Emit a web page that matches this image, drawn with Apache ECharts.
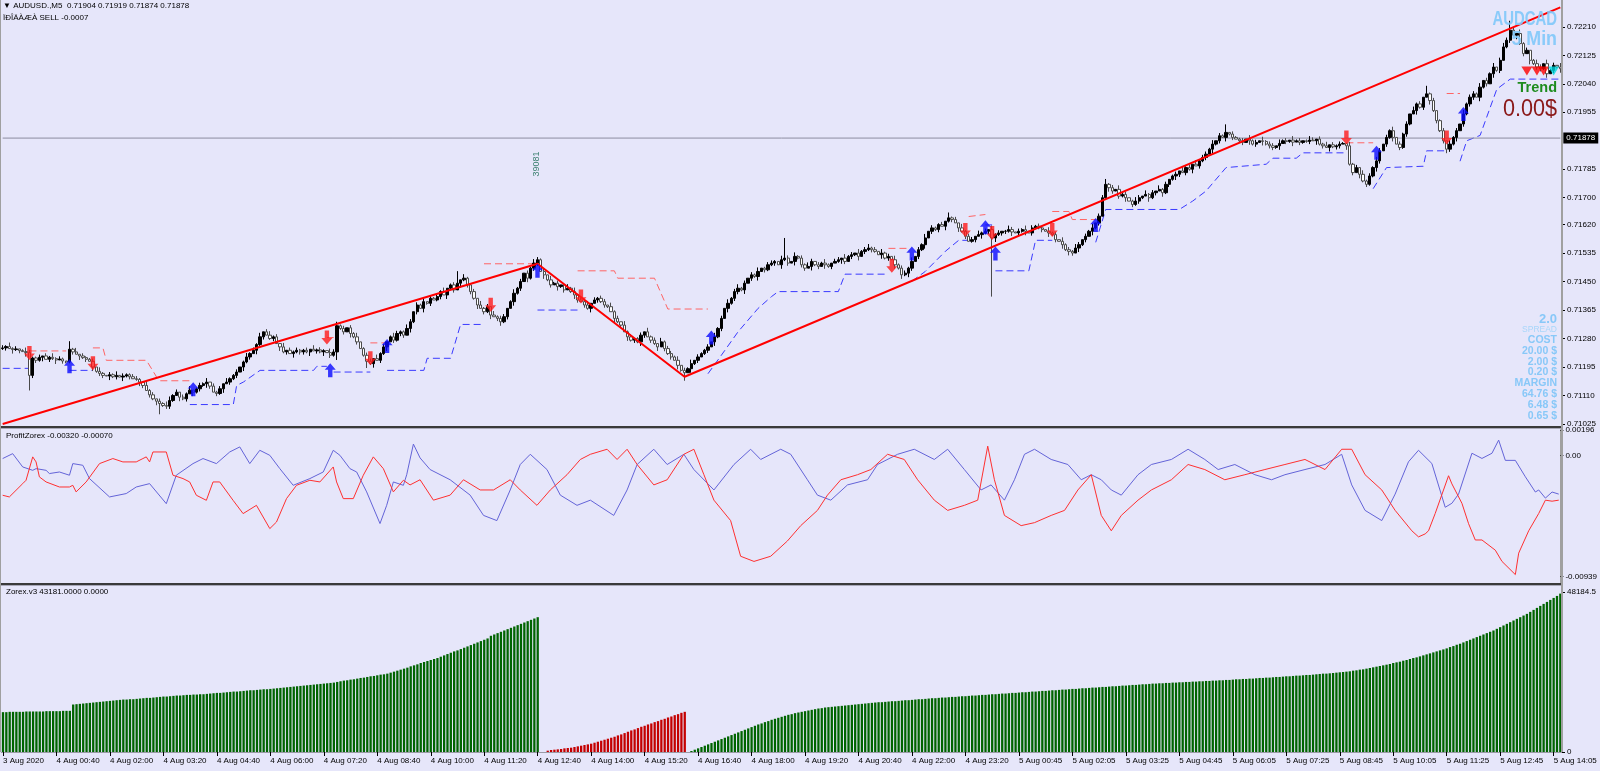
<!DOCTYPE html>
<html><head><meta charset="utf-8">
<script src="https://cdn.jsdelivr.net/npm/echarts@6/dist/echarts.min.js"></script>
<style>html,body{margin:0;padding:0;background:#E6E6FA;}#c{width:1600px;height:771px;}</style>
</head><body><div id="c"></div>
<script>
// ---------- DATA (prices in points: price = 0.71 + pts/1e5) ----------
const BASE = 0.71;
const firstOpen = 250;
const closes = [
252,256,250,247,249,244,241,238,170,222,
215,224,228,218,224,220,216,219,213,210,
248,240,233,228,223,218,212,195,182,176,
170,168,172,166,170,165,168,172,166,160,
158,150,140,125,112,100,93,86,80,78,
95,110,120,105,100,115,126,120,130,140,
145,150,138,120,116,130,145,150,160,170,
180,195,210,225,235,245,262,285,300,290,
280,285,265,255,240,245,235,240,245,240,
245,240,248,243,246,240,244,238,230,240,
318,310,300,312,295,285,270,250,230,212,
205,220,215,235,255,270,285,275,295,300,
290,310,330,360,380,370,390,385,400,395,
405,420,410,430,440,425,445,455,460,440,
420,400,380,370,360,375,350,345,340,330,
345,370,390,415,430,450,475,460,490,505,
515,480,470,455,440,445,435,440,425,430,
420,410,395,390,380,370,385,395,400,390,
380,375,360,340,330,320,300,285,275,280,
270,290,300,285,275,265,255,270,250,235,
225,215,200,185,178,190,205,215,225,235,
245,255,270,285,310,340,370,385,400,420,
430,425,445,460,470,465,480,490,485,500,
505,510,500,515,520,505,510,525,520,500,
490,495,510,500,495,505,500,495,505,510,
515,520,510,525,530,535,525,540,545,550,
545,540,530,535,520,525,515,500,490,470,
475,490,510,525,545,560,580,600,610,605,
620,615,630,640,635,625,610,600,585,570,
575,585,590,595,600,605,580,590,595,600,
600,605,598,595,600,605,600,595,610,615,
610,605,600,595,590,575,570,560,545,540,
535,550,560,575,585,600,610,625,645,700,
740,730,720,725,705,710,700,690,680,690,
700,705,710,700,715,720,725,715,740,755,
765,770,780,775,790,785,800,795,810,820,
830,845,860,870,885,880,895,890,880,875,
870,865,875,870,860,865,870,868,860,855,
850,855,862,870,868,872,866,870,865,870,
868,872,870,875,860,855,850,858,852,855,
860,862,855,800,775,790,770,750,740,765,
790,810,840,860,880,900,880,860,850,890,
920,950,960,980,970,1000,1010,990,960,930,
900,870,845,860,880,900,920,950,980,1000,
1010,1000,1030,1050,1040,1070,1090,1080,1110,1150,
1170,1200,1185,1190,1160,1130,1140,1110,1100,1090,
1085,1100,1070,1080,1095,1090,1085];
// upper / lower wick lengths, one digit per bar, x4 points
const wickUp = "2131201321 1202131210 6130211203 1021302112 2103120213 3120213012 1302120311 2013121302 3120302121 1203121032 "+
"3120213012 2031201321 1320213021 2130129031 1203120312 2013120213 2120312013 1302130212 2031203120 1203120312 "+
"2130213021 1203120312 3120213012 2103020312 1320213102 2031203123 1203120312 2130213021 1204120312 2031203120 "+
"1320213021 2103120312 1320213022 4120312013 2031203120 1203120312 2130216021 1203120312 2031203120 1320213021 "+
"2103120312 1320213021 2031206120 1203120312 2130213023 2720312013 2031203";
const wickDn = "1203120312 2130213021 1203120312 2031203120 1320213812 2103120312 1320213021 2031203120 1203120312 2130213021 "+
"6120312015 1302130212 2031203120 1203120312 2130213023 1203120312 2031203120 1320213021 2103120312 1320213021 "+
"2031603120 1203120312 2130213021 1203120312 2031203120 1320213021 2103120313 1320213021 2031203120 1203120312 "+
"2130213021 1203120313 2031203120 1320213021 2103120312 1320213021 2031203120 1203120312 2130213021 1203120312 "+
"2031203121 1320213021 2103120312 1232130212 2031203120 1203120312 2130213";
const spikeHighs = [[234, 580]];
const spikeLows = [[8, 125], [296, 405]];

const tickLabels = ["3 Aug 2020","4 Aug 00:40","4 Aug 02:00","4 Aug 03:20","4 Aug 04:40","4 Aug 06:00","4 Aug 07:20","4 Aug 08:40","4 Aug 10:00","4 Aug 11:20","4 Aug 12:40","4 Aug 14:00","4 Aug 15:20","4 Aug 16:40","4 Aug 18:00","4 Aug 19:20","4 Aug 20:40","4 Aug 22:00","4 Aug 23:20","5 Aug 00:45","5 Aug 02:05","5 Aug 03:25","5 Aug 04:45","5 Aug 06:05","5 Aug 07:25","5 Aug 08:45","5 Aug 10:05","5 Aug 11:25","5 Aug 12:45","5 Aug 14:05"];
const priceTicks = [0.72210,0.72125,0.72040,0.71955,0.71785,0.71700,0.71620,0.71535,0.71450,0.71365,0.71280,0.71195,0.71110,0.71025];
const currentPrice = 0.71878;

const zigzag = [[0,25],[160,503],[204,166],[466,1268]];

const blueStops = [
 [[0,191],[8,191]],
 [[20,185],[27,185]],
 [[56,83],[69,83],[70,140],[72,150],[77,185],[93,185],[94,197],[97,197]],
 [[99,180],[110,180]],
 [[115,185],[126,185],[127,221],[134,221],[137,322],[144,322]],
 [[160,365],[172,365]],
 [[211,175],[215,230],[220,300],[226,370],[230,405],[232,420],[250,420],[252,472],[265,472]],
 [[272,451],[276,480],[282,540],[286,573],[289,573]],
 [[294,619],[296,619]],
 [[297,482],[307,482],[309,573],[314,573]],
 [[327,567],[330,665],[352,665],[356,690],[360,720],[366,790],[378,800],[380,818],[387,818],[389,834],[402,834]],
 [[410,727],[414,790],[425,794],[426,840],[432,840]],
 [[436,809],[438,870],[442,886],[447,1024],[451,1054],[466,1054]]
];
const redStops = [
 [[8,243],[19,243]],
 [[27,252],[30,252],[31,215],[43,215],[46,166],[47,154],[56,154]],
 [[97,283],[99,283]],
 [[110,267],[115,267]],
 [[144,503],[160,503]],
 [[172,482],[183,482],[184,460],[195,460],[199,368],[211,368]],
 [[265,549],[271,549]],
 [[289,644],[294,650]],
 [[314,659],[319,659],[320,635],[327,635]],
 [[402,864],[410,864]],
 [[432,1011],[436,1011]]
];
const sellArrows = [[8,237],[27,206],[97,283],[110,221],[146,381],[173,405],[266,497],[288,604],[296,595],[314,604],[402,880],[432,880]];
const buyArrows = [[20,197],[57,129],[98,185],[115,258],[160,482],[212,283],[272,534],[294,612],[297,534],[327,619],[411,834],[437,950]];
const redMarks = [[456,1078],[459,1078],[461,1078]];
const cyanMarks = [[464,1078]];

// ProfitZorex oscillator (units of 1e-5)
const oscBlue = [[0,-25],[3,13],[6,-90],[9,-116],[10,-103],[13,-116],[14,-141],[17,-129],[20,-154],[21,-64],[24,-77],[26,-180],[32,-322],[37,-296],[40,-245],[44,-219],[49,-374],[52,-154],[57,-64],[60,-25],[64,-64],[68,26],[71,65],[74,-64],[77,39],[80,0],[83,-103],[87,-232],[92,-180],[96,-129],[99,39],[101,0],[104,-103],[106,-129],[109,-283],[113,-528],[115,-387],[117,-206],[120,-232],[121,-150],[123,87],[125,-20],[128,-110],[134,-189],[140,-308],[144,-465],[148,-505],[152,-268],[155,-71],[158,8],[163,-110],[167,-308],[172,-387],[176,-347],[183,-465],[187,-268],[190,-71],[195,47],[199,-71],[204,8],[207,-110],[213,-268],[219,-71],[224,47],[227,-32],[233,47],[236,8],[241,-189],[244,-308],[248,-347],[253,-229],[259,-189],[262,-71],[268,8],[273,47],[279,-32],[283,47],[288,-110],[293,-268],[296,-229],[300,-347],[303,-189],[306,8],[309,47],[314,-32],[319,-71],[323,-189],[326,-150],[329,-189],[332,-268],[335,-308],[340,-150],[344,-71],[350,-32],[355,47],[360,-32],[364,-110],[369,-71],[375,-150],[380,-189],[384,-150],[390,-110],[396,-71],[401,8],[404,-229],[408,-426],[413,-505],[417,-300],[421,-50],[424,39],[428,-63],[432,-402],[434,-371],[436,-300],[440,16],[443,-24],[446,16],[448,118],[450,-39],[453,-39],[456,-166],[459,-284],[460,-268],[462,-331],[464,-284],[466,-300]];
const oscRed = [[0,-309],[2,-322],[6,-219],[7,-193],[9,-12],[10,-51],[11,-167],[13,-206],[17,-245],[20,-245],[21,-232],[22,-283],[25,-206],[29,-64],[33,-25],[36,-51],[40,-51],[42,-25],[43,-12],[44,-51],[45,26],[49,26],[51,-154],[54,-180],[56,-206],[58,-309],[61,-348],[63,-206],[65,-206],[69,-348],[72,-451],[76,-387],[80,-567],[82,-516],[85,-335],[88,-232],[92,-193],[95,-206],[99,-90],[100,-206],[102,-335],[105,-335],[108,-154],[111,-12],[114,-103],[117,-283],[120,-193],[122,-229],[125,-189],[129,-347],[134,-308],[138,-189],[143,-268],[147,-268],[152,-189],[155,-268],[160,-387],[164,-268],[169,-150],[173,-32],[176,8],[181,47],[184,-32],[187,47],[190,-71],[195,-229],[199,-189],[204,8],[207,47],[210,-150],[213,-347],[218,-505],[221,-781],[225,-821],[230,-781],[235,-663],[239,-544],[244,-426],[247,-308],[251,-189],[256,-150],[260,-110],[265,8],[270,-32],[274,-189],[279,-347],[283,-426],[288,-387],[292,-347],[295,71],[297,-189],[300,-465],[305,-544],[309,-521],[314,-465],[318,-426],[322,-268],[326,-150],[329,-465],[332,-584],[335,-465],[340,-347],[344,-268],[350,-189],[355,-71],[360,-110],[366,-189],[372,-150],[378,-110],[384,-71],[390,-32],[396,-110],[401,47],[404,47],[408,-150],[413,-268],[417,-426],[422,-584],[424,-631],[426,-608],[427,-584],[429,-450],[433,-158],[434,-221],[437,-371],[439,-529],[441,-655],[443,-655],[447,-734],[449,-821],[453,-923],[454,-757],[457,-584],[460,-450],[462,-347],[464,-355],[466,-347]];
const oscTicks = [0.00196, 0, -0.00939];

// Zorex.v3 histogram (units of 100)
const histGreenAStart = 0;
const histGreenA = [120,120,121,121,121,121,121,122,122,122,122,122,122,123,123,123,123,123,124,124,124,
143,144,145,146,147,148,149,150,151,152,153,154,155,156,157,158,158,159,159,160,
161,162,163,163,164,165,166,167,167,168,169,170,170,171,172,172,173,173,174,174,
175,176,177,178,178,179,180,181,182,182,183,184,185,186,186,187,188,189,189,190,
191,192,193,194,195,196,197,198,199,200,201,202,203,204,205,206,207,208,209,211,
213,215,216,218,219,221,223,224,226,228,229,231,233,234,236,
239,242,245,248,251,254,258,261,264,268,271,274,277,280,283,
287,291,295,299,303,306,310,314,318,322,326,330,334,338,342,
350,354,358,362,366,370,374,378,382,386,390,394,398,402,406];
const histRedStart = 163;
const histRed = [4,6,7,8,9,11,12,13,15,17,19,21,23,25,28,31,34,37,40,43,46,50,53,57,61,65,68,72,76,79,83,86,90,93,97,100,104,107,111,114,118,121];
const histGreenBStart = 206;
const histGreenB = [3,7,11,15,19,23,27,31,35,39,43,47,51,55,59,63,67,71,75,79,83,86,90,93,97,100,103,106,109,112,
114,117,119,121,123,125,127,129,131,132,134,135,136,137,138,139,140,141,142,143,144,145,146,147,
148,149,150,150,151,152,153,153,154,155,156,156,157,158,159,159,160,161,162,162,163,164,164,165,166,166,167,168,168,169,
170,170,171,172,172,173,174,174,175,176,176,177,178,178,179,180,180,181,182,182,183,184,184,185,186,186,187,188,188,189,
190,190,191,192,192,193,194,194,195,196,196,197,198,198,199,200,200,201,202,202,203,204,204,205,206,206,207,207,208,208,
209,209,210,210,211,211,212,212,213,213,214,214,215,215,216,216,217,217,218,219,219,220,220,221,221,222,223,223,224,224,
225,226,226,227,228,228,229,230,230,231,232,232,233,234,235,236,236,237,238,239,240,241,242,243,245,246,248,249,251,253,
255,257,259,261,263,265,268,270,272,275,277,280,283,285,288,291,294,297,300,303,306,309,312,316,319,323,326,330,334,338,
342,346,350,354,358,362,366,371,376,381,386,391,396,401,406,411,416,422,428,434,440,446,452,458,464,470,477];
const histMax = 48184.5;

// ---------- BUILD ----------
const N = closes.length;
const P = v => +(BASE + v / 1e5).toFixed(5);
const up = wickUp.replace(/\s/g, ''), dn = wickDn.replace(/\s/g, '');
const candles = closes.map((c, i) => {
  const o = i === 0 ? firstOpen : closes[i - 1];
  const hi = Math.max(o, c) + (+up[i] || 0) * 4;
  const lo = Math.min(o, c) - (+dn[i] || 0) * 4;
  return [P(o), P(c), P(lo), P(hi)];
});
spikeHighs.forEach(([i, v]) => { candles[i][3] = P(v); });
spikeLows.forEach(([i, v]) => { candles[i][2] = P(v); });
const cats = closes.map((_, i) => String(i));

const greenData = new Array(N).fill(null), redData = new Array(N).fill(null);
histGreenA.forEach((v, k) => { greenData[histGreenAStart + k] = v * 100; });
histGreenB.forEach((v, k) => { if (histGreenBStart + k < N) greenData[histGreenBStart + k] = v * 100; });
histRed.forEach((v, k) => { redData[histRedStart + k] = v * 100; });

// ---------- LAYOUT ----------
const AX = 1562;            // x of the right price axis
const G0 = { top: 0, h: 426 }, G1 = { top: 430, h: 153 }, G2 = { top: 592, h: 160 };
const FONT = '"Liberation Sans", Arial, sans-serif';
const axisLabelBase = { fontSize: 8, color: '#000', fontFamily: FONT };
const isTick = idx => idx % 16 === 0;

const xAxes = [0, 1, 2].map(k => ({
  type: 'category', gridIndex: k, data: cats, boundaryGap: true,
  show: k === 2,
  axisLine: { show: k === 2, lineStyle: { color: '#9a9aa6', width: 1 } },
  axisTick: { show: k === 2, interval: isTick, alignWithLabel: true, length: 4, lineStyle: { color: '#000' } },
  axisLabel: Object.assign({ show: k === 2, interval: isTick, align: 'left', margin: 5,
    formatter: (v, idx) => tickLabels[idx / 16] || '' }, axisLabelBase),
  splitLine: { show: false }
}));

const yAxisCommon = {
  position: 'right', splitLine: { show: false },
  axisLine: { show: true, lineStyle: { color: '#a0a0a0', width: 2 } }
};
const yAxes = [
  Object.assign({}, yAxisCommon, { type: 'value', gridIndex: 0, min: 0.71019, max: 0.72290, scale: true,
    axisTick: { show: true, customValues: priceTicks, length: 3, lineStyle: { color: '#000' } },
    axisLabel: Object.assign({ customValues: priceTicks, margin: 5, formatter: v => v.toFixed(5) }, axisLabelBase) }),
  Object.assign({}, yAxisCommon, { type: 'value', gridIndex: 1, min: -0.00988, max: 0.00196,
    axisTick: { show: true, customValues: oscTicks, length: 3, lineStyle: { color: '#000' } },
    axisLabel: Object.assign({ customValues: oscTicks, margin: 5, formatter: v => v === 0 ? '0.00' : v.toFixed(5) }, axisLabelBase) }),
  Object.assign({}, yAxisCommon, { type: 'value', gridIndex: 2, min: 0, max: histMax,
    axisTick: { show: true, customValues: [histMax, 0], length: 3, lineStyle: { color: '#000' } },
    axisLabel: Object.assign({ customValues: [histMax, 0], margin: 5, formatter: v => String(v) }, axisLabelBase) })
];

const series = [];
blueStops.forEach(seg => series.push({ type: 'line', xAxisIndex: 0, yAxisIndex: 0, symbol: 'none', silent: true, z: 2,
  data: seg.map(([i, v]) => [i, P(v)]), lineStyle: { color: '#3a3aff', width: 1, type: [7, 4] } }));
redStops.forEach(seg => series.push({ type: 'line', xAxisIndex: 0, yAxisIndex: 0, symbol: 'none', silent: true, z: 2,
  data: seg.map(([i, v]) => [i, P(v)]), lineStyle: { color: '#ff6464', width: 1, type: [7, 4] } }));
series.push({
  type: 'candlestick', xAxisIndex: 0, yAxisIndex: 0, data: candles, barWidth: 2.8, z: 3,
  itemStyle: { color: '#000000', borderColor: '#000000', color0: '#ffffff', borderColor0: '#4a4a4a', borderWidth: 1 }
});
// current bid line with price box
series.push({ type: 'line', xAxisIndex: 0, yAxisIndex: 0, symbol: 'none', silent: true, z: 2,
  data: [[0, currentPrice], [N - 1, currentPrice]], lineStyle: { color: '#8c8ca0', width: 1 },
  endLabel: { show: true, formatter: currentPrice.toFixed(5), backgroundColor: '#000', color: '#fff',
    fontSize: 8, fontFamily: FONT, padding: [2, 3, 1, 3], distance: 3 } });
series.push({ type: 'line', xAxisIndex: 0, yAxisIndex: 0, symbol: 'none', z: 5, silent: true,
  data: zigzag.map(([i, v]) => [i, P(v)]), lineStyle: { color: '#ff0000', width: 2 } });
series.push({ type: 'scatter', xAxisIndex: 0, yAxisIndex: 0, z: 6, silent: true,
  symbol: 'path://M3,0 L7,0 L7,7 L10,7 L5,13 L0,7 L3,7 Z', symbolSize: [11, 14],
  itemStyle: { color: '#ff1a1a' }, data: sellArrows.map(([i, v]) => [i, P(v)]) });
series.push({ type: 'scatter', xAxisIndex: 0, yAxisIndex: 0, z: 6, silent: true,
  symbol: 'path://M5,0 L10,6 L7,6 L7,13 L3,13 L3,6 L0,6 Z', symbolSize: [11, 14],
  itemStyle: { color: '#0a0aff' }, data: buyArrows.map(([i, v]) => [i, P(v)]) });
series.push({ type: 'scatter', xAxisIndex: 0, yAxisIndex: 0, z: 6, silent: true,
  symbol: 'triangle', symbolRotate: 180, symbolSize: [11, 9],
  itemStyle: { color: '#ff0000' }, data: redMarks.map(([i, v]) => [i, P(v)]) });
series.push({ type: 'scatter', xAxisIndex: 0, yAxisIndex: 0, z: 6, silent: true,
  symbol: 'triangle', symbolRotate: 180, symbolSize: [11, 9],
  itemStyle: { color: '#00d8e0' }, data: cyanMarks.map(([i, v]) => [i, P(v)]) });
series.push({ type: 'line', xAxisIndex: 1, yAxisIndex: 1, symbol: 'none', silent: true,
  data: oscBlue.map(([i, v]) => [i, v / 1e5]), lineStyle: { color: '#6464d8', width: 1 } });
series.push({ type: 'line', xAxisIndex: 1, yAxisIndex: 1, symbol: 'none', silent: true,
  data: oscRed.map(([i, v]) => [i, v / 1e5]), lineStyle: { color: '#ff3030', width: 1 } });
series.push({ type: 'bar', xAxisIndex: 2, yAxisIndex: 2, data: greenData, barWidth: 2.3, barGap: '-100%', silent: true,
  itemStyle: { color: '#006400' } });
series.push({ type: 'bar', xAxisIndex: 2, yAxisIndex: 2, data: redData, barWidth: 2.3, barGap: '-100%', silent: true,
  itemStyle: { color: '#c40000' } });

function txt(x, y, text, font, fill, align, extra) {
  return Object.assign({ type: 'text', x: x, y: y, silent: true, z: 100,
    style: { text: text, font: font, fill: fill, align: align || 'left', textAlign: align || 'left',
      verticalAlign: 'middle', textVerticalAlign: 'middle' } }, extra || {});
}
const SKY = '#88c8f8';
const RX = 1557;
const infoLines = [
  ['2.0', 'bold 13px ' + FONT, SKY, 319],
  ['SPREAD', '8.5px ' + FONT, '#a8d6fa', 330],
  ['COST', 'bold 10.5px ' + FONT, SKY, 340.5],
  ['20.00 $', 'bold 10.5px ' + FONT, SKY, 351],
  ['2.00 $', 'bold 10.5px ' + FONT, SKY, 362],
  ['0.20 $', 'bold 10.5px ' + FONT, SKY, 372.5],
  ['MARGIN', 'bold 10.5px ' + FONT, SKY, 383.5],
  ['64.76 $', 'bold 10.5px ' + FONT, SKY, 394.5],
  ['6.48 $', 'bold 10.5px ' + FONT, SKY, 405],
  ['0.65 $', 'bold 10.5px ' + FONT, SKY, 416]
];
const graphic = [
  { type: 'rect', silent: true, z: 50, shape: { x: 0, y: 426, width: AX, height: 2 }, style: { fill: '#3a3a3a' } },
  { type: 'rect', silent: true, z: 50, shape: { x: 0, y: 428, width: AX, height: 1 }, style: { fill: '#a8a8b8' } },
  { type: 'rect', silent: true, z: 50, shape: { x: 0, y: 583, width: AX, height: 2 }, style: { fill: '#3a3a3a' } },
  { type: 'rect', silent: true, z: 50, shape: { x: 0, y: 585, width: AX, height: 1 }, style: { fill: '#a8a8b8' } },
  { type: 'rect', silent: true, z: 50, shape: { x: 0, y: 0, width: 1, height: 752 }, style: { fill: '#a0a0a0' } },
  { type: 'rect', silent: true, z: 50, shape: { x: AX - 1, y: 0, width: 2, height: 752 }, style: { fill: '#a0a0a0' } },
  txt(3, 6, '\u25BC AUDUSD.,M5  0.71904 0.71919 0.71874 0.71878', '8px ' + FONT, '#000'),
  txt(3, 18, '\u00CF\u00D0\u00CE\u00C4\u00C0\u00C6\u00C0 SELL -0.0007', '8px ' + FONT, '#000'),
  txt(6, 436, 'ProfitZorex -0.00320 -0.00070', '8px ' + FONT, '#000'),
  txt(6, 592, 'Zorex.v3 43181.0000 0.0000', '8px ' + FONT, '#000'),
  txt(RX, 19.5, 'AUDCAD', 'bold 21px ' + FONT, 'rgba(128,200,250,0.9)', 'right', { scaleX: 0.71 }),
  txt(RX, 39.5, '5 Min', 'bold 21px ' + FONT, 'rgba(128,200,250,0.9)', 'right', { scaleX: 0.85 }),
  txt(RX, 87.5, 'Trend', 'bold 14.5px ' + FONT, '#1e8c1e', 'right'),
  txt(RX, 109, '0.00$', '24px ' + FONT, '#8b1a1a', 'right', { scaleX: 0.9 }),
  { type: 'text', x: 537, y: 164, rotation: Math.PI / 2, silent: true, z: 100,
    style: { text: '39081', font: '9px ' + FONT, fill: '#3c8070', align: 'center', textAlign: 'center',
      verticalAlign: 'middle', textVerticalAlign: 'middle' } }
].concat(infoLines.map(l => txt(RX, l[3], l[0], l[1], l[2], 'right')));

const chart = echarts.init(document.getElementById('c'), null, { renderer: 'canvas', width: 1600, height: 771 });
chart.setOption({
  animation: false,
  backgroundColor: '#E6E6FA',
  grid: [
    { left: 1, right: 1600 - AX, top: G0.top, height: G0.h },
    { left: 1, right: 1600 - AX, top: G1.top, height: G1.h },
    { left: 1, right: 1600 - AX, top: G2.top, height: G2.h }
  ],
  xAxis: xAxes,
  yAxis: yAxes,
  series: series,
  graphic: graphic
});
</script>
</body></html>
